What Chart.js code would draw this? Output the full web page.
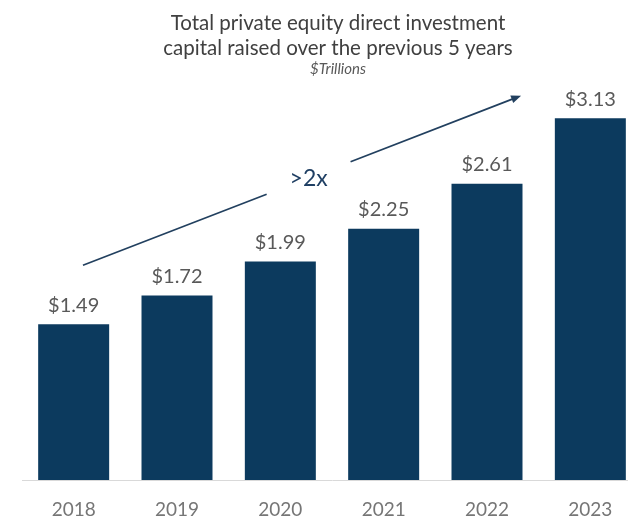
<!DOCTYPE html>
<html>
<head>
<meta charset="utf-8">
<script src="https://cdn.jsdelivr.net/npm/chart.js@4.4.1/dist/chart.umd.min.js"></script>
<style>
    html, body { margin: 0; padding: 0; background: #ffffff; overflow: hidden; }
    .chart-box { position: relative; width: 676px; height: 519px; }
</style>
</head>
<body>
<div class="chart-box">
    <canvas class="chart-1"></canvas>
</div>
<script>
const years = ['2018', '2019', '2020', '2021', '2022', '2023'];
const capitalRaised = [1.49, 1.72, 1.99, 2.25, 2.61, 3.13];

// growth arrow, in [category index, value] units
const arrowFrom = [0.09, 1.96];
const arrowTo = [4.33, 3.31];
const arrowLabel = '>2x';

const chart1 = document.querySelector('.chart-1');

const barColor = '#0c3a5e';
const arrowColor = '#22405f';

// dollar labels above each bar
const valueLabels = {
    id: 'valueLabels',
    afterDatasetsDraw(chart) {
        const ctx = chart.ctx;
        const meta = chart.getDatasetMeta(0);
        ctx.save();
        ctx.font = '20px Lato';
        ctx.fillStyle = '#595959';
        ctx.textAlign = 'center';
        ctx.textBaseline = 'middle';
        meta.data.forEach((bar, i) => {
            ctx.fillText('$' + capitalRaised[i].toFixed(2), bar.x, bar.y - 19);
        });
        ctx.restore();
    }
};

// arrow with a gap for the ">2x" text
const growthArrow = {
    id: 'growthArrow',
    afterDraw(chart) {
        const ctx = chart.ctx;
        const xs = chart.scales.x;
        const ys = chart.scales.y;
        const x1 = xs.getPixelForValue(arrowFrom[0]);
        const y1 = ys.getPixelForValue(arrowFrom[1]);
        const x2 = xs.getPixelForValue(arrowTo[0]);
        const y2 = ys.getPixelForValue(arrowTo[1]);
        const len = Math.hypot(x2 - x1, y2 - y1);
        const ux = (x2 - x1) / len;
        const uy = (y2 - y1) / len;

        const tMid = 0.515 * len;
        const gap = 45;
        const mx = x1 + ux * tMid;
        const my = y1 + uy * tMid;

        ctx.save();
        ctx.strokeStyle = arrowColor;
        ctx.fillStyle = arrowColor;
        ctx.lineWidth = 1.7;
        ctx.beginPath();
        ctx.moveTo(x1, y1);
        ctx.lineTo(x1 + ux * (tMid - gap), y1 + uy * (tMid - gap));
        ctx.moveTo(x1 + ux * (tMid + gap), y1 + uy * (tMid + gap));
        ctx.lineTo(x2 - ux * 6, y2 - uy * 6);
        ctx.stroke();

        // head
        const hl = 10, hw = 4;
        ctx.beginPath();
        ctx.moveTo(x2, y2);
        ctx.lineTo(x2 - ux * hl - uy * hw, y2 - uy * hl + ux * hw);
        ctx.lineTo(x2 - ux * hl + uy * hw, y2 - uy * hl - ux * hw);
        ctx.closePath();
        ctx.fill();

        ctx.font = '23px Lato';
        ctx.fillStyle = '#1f3f63';
        ctx.textAlign = 'center';
        ctx.textBaseline = 'middle';
        ctx.fillText(arrowLabel, mx, my + 1);
        ctx.restore();
    }
};

new Chart(chart1, {
    type: 'bar',
    data: {
        labels: years,
        datasets: [{
            data: capitalRaised,
            backgroundColor: barColor,
            borderWidth: 0,
            categoryPercentage: 1,
            barPercentage: 0.687
        }]
    },
    options: {
        responsive: true,
        maintainAspectRatio: false,
        animation: false,
        layout: { padding: 0 },
        plugins: {
            legend: { display: false },
            tooltip: { enabled: false },
            title: {
                display: true,
                text: ['Total private equity direct investment', 'capital raised over the previous 5 years'],
                color: '#404040',
                font: { family: 'Lato', size: 20.5, weight: 'normal', lineHeight: 1.2 },
                padding: { top: 11, bottom: 0 }
            },
            subtitle: {
                display: true,
                text: '$Trillions',
                color: '#595959',
                font: { family: 'Lato', size: 15, style: 'italic', lineHeight: 1.2 },
                padding: { top: 0, bottom: 18.8 }
            }
        },
        scales: {
            x: {
                grid: { display: false, drawTicks: false },
                border: { display: true, color: '#d9d9d9', width: 1 },
                ticks: {
                    color: '#767676',
                    padding: 20,
                    font: { family: 'Lato', size: 19, lineHeight: 1 }
                },
                afterFit(scale) { scale.height = 39; }
            },
            y: {
                position: 'left',
                min: 0.25,
                max: 3.3,
                grid: { display: false },
                border: { display: false },
                ticks: { display: false },
                afterFit(scale) { scale.width = 22; }
            },
            // empty right-hand margin
            yRight: {
                position: 'right',
                grid: { display: false },
                border: { display: false },
                ticks: { display: false },
                afterFit(scale) { scale.width = 34; }
            }
        }
    },
    plugins: [valueLabels, growthArrow]
});
</script>
</body>
</html>
